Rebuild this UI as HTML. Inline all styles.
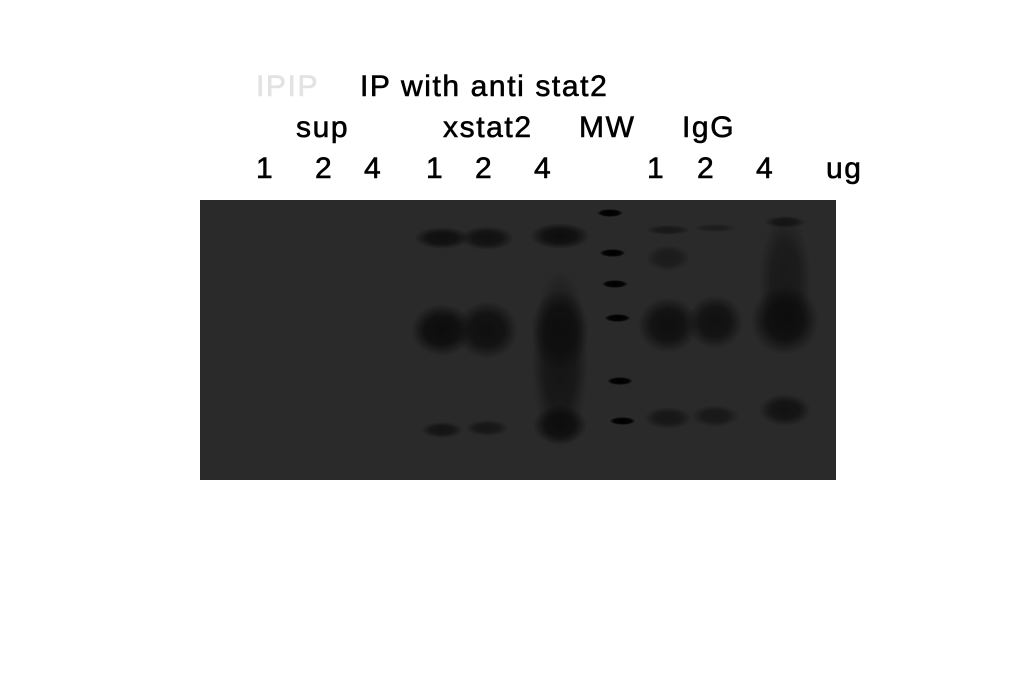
<!DOCTYPE html>
<html><head><meta charset="utf-8"><style>
body{margin:0;background:#fff;width:1036px;height:680px;overflow:hidden}
svg{display:block}
text{font-family:"Liberation Sans",Arial,sans-serif;font-size:30px;letter-spacing:1.6px;fill:#000;stroke:#000;stroke-width:0.6px}
</style></head><body>
<svg id="c" width="1036" height="680">
<defs>
<radialGradient id="g">
<stop offset="0" stop-color="#0c0c0c" stop-opacity="1"/>
<stop offset="0.55" stop-color="#0c0c0c" stop-opacity="0.85"/>
<stop offset="1" stop-color="#0c0c0c" stop-opacity="0"/>
</radialGradient>
<radialGradient id="m">
<stop offset="0" stop-color="#000" stop-opacity="1"/>
<stop offset="0.7" stop-color="#000" stop-opacity="0.9"/>
<stop offset="1" stop-color="#000" stop-opacity="0"/>
</radialGradient>
</defs>
<text x="256" y="96" style="fill:#e2e2e2;stroke:#e2e2e2">IPIP</text>
<text x="360" y="96">IP with anti stat2</text>
<text x="296" y="137">sup</text>
<text x="443" y="137">xstat2</text>
<text x="579" y="137">MW</text>
<text x="682" y="137">IgG</text>
<g id="lanelabels"></g>
<rect x="200" y="200" width="636" height="280" fill="#2a2a2a"/>
<g id="bands"></g>
</svg>
<script>
const laneLabels=["1","2","4","1","2","4","1","2","4","ug"];
const labelX=[256,315,364,426,475,534,647,697,756,826];
// bands: lane center x, y, width, height, darkness(0-1)
const bandLane=[442,487,560,442,487,560,442,487,560,668,668,668,668,715,715,715,785,785,785,560,785];
const bandY=[238,238,236,330,330,330,430,428,425,230,258,325,418,228,322,416,222,320,410,360,280];
const bandW=[56,54,60,62,62,58,42,44,54,44,44,60,48,42,56,48,42,68,52,56,52];
const bandH=[22,24,26,52,58,80,16,16,40,10,26,56,22,8,54,22,12,70,32,180,130];
const bandDark=[0.9,0.85,0.95,1,0.9,0.8,0.75,0.65,0.95,0.6,0.5,0.9,0.65,0.45,0.85,0.6,0.7,0.95,0.8,0.7,0.55];
const mwY=[213,253,284,318,381,421];
const ns="http://www.w3.org/2000/svg";
const L=document.getElementById('lanelabels');
laneLabels.forEach((t,i)=>{const e=document.createElementNS(ns,'text');e.setAttribute('x',labelX[i]);e.setAttribute('y',178);e.textContent=t;


L.appendChild(e);});
const B=document.getElementById('bands');
bandLane.forEach((x,i)=>{const e=document.createElementNS(ns,'ellipse');
e.setAttribute('cx',x);e.setAttribute('cy',bandY[i]);e.setAttribute('rx',bandW[i]/2);e.setAttribute('ry',bandH[i]/2);
e.setAttribute('fill','url(#g)');e.setAttribute('opacity',bandDark[i]);


B.appendChild(e);});
mwY.forEach((y,i)=>{const e=document.createElementNS(ns,'ellipse');
e.setAttribute('cx',610+i*2.5);e.setAttribute('cy',y);e.setAttribute('rx',13);e.setAttribute('ry',4);
e.setAttribute('fill','url(#m)');


B.appendChild(e);});
</script>
</body></html>
